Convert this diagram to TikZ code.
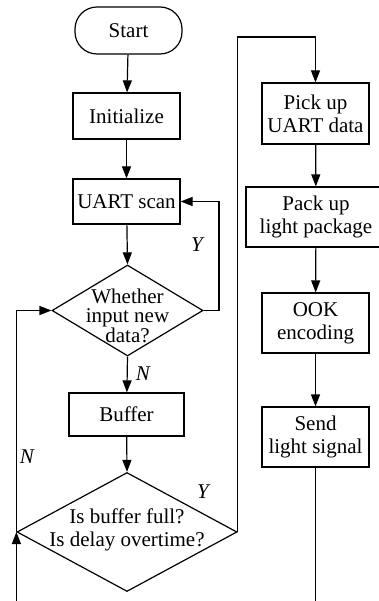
\documentclass[tikz,border=0pt]{standalone}
\usepackage{fontspec}
\setmainfont{Liberation Serif}
\usetikzlibrary{arrows.meta,shapes.geometric}
\tikzset{
  box/.style={draw, line width=1.2pt, rectangle, inner sep=0pt, align=center, minimum width=107pt},
  term/.style={box, rounded corners=22pt, minimum width=107pt, minimum height=47pt},
  dia/.style={draw, line width=1.2pt, diamond, inner sep=0pt},
  arr/.style={line width=1.2pt, -{Triangle[length=12pt,width=9pt]}},
  ln/.style={line width=1.2pt},
  lbl/.style={font=\fontsize{21}{23}\selectfont\itshape, inner sep=0pt},
  txt/.style={align=center, inner sep=0pt}
}
\begin{document}
\begin{tikzpicture}[x=1pt,y=-1pt,font=\fontsize{21}{23}\selectfont]
\useasboundingbox (0,0) rectangle (379,601);
\clip (0,0) rectangle (379,601);
\fill[white] (0,0) rectangle (379,601);
% left column
\node[term] (start) at (128.5,30.5) {Start};
\node[box, minimum height=46pt] (init) at (126.5,116) {Initialize};
\node[box, minimum height=45pt] (scan) at (126.5,201.5) {UART scan};
\node[dia, minimum width=151pt, minimum height=91pt] (d1) at (127.5,310.5) {};
\node[txt, font=\fontsize{21}{18.5}\selectfont] (d1t) at (127.5,316) {Whether\\input new\\data?};
\node[box, minimum width=115pt, minimum height=43pt] (buf) at (126.5,414.5) {Buffer};
\node[dia, minimum width=220pt, minimum height=119pt] (d2) at (127,532) {};
\node[txt] (d2t) at (127,530) {Is buffer full?\\Is delay overtime?};
% right column
\node[box, minimum height=61pt] (pick) at (315.5,113.5) {Pick up\\UART data};
\node[box, minimum width=140pt, minimum height=60pt] (pack) at (316,217) {Pack up\\light package};
\node[box, minimum height=60pt] (ook) at (315.5,323) {OOK\\encoding};
\node[box, minimum height=60pt] (send) at (315.5,437) {Send\\light signal};
% helper coordinates
\coordinate (topy) at (0,37);
\coordinate (boty) at (0,605);
\coordinate (loopx) at (219,0);
% connectors
\draw[arr] (start) -- (init);
\draw[arr] (init) -- (scan);
\draw[arr] (scan) -- (d1.north);
\draw[arr] (d1.east) -- (loopx |- d1.east) |- (scan.east);
\draw[arr] (d1.south) -- (buf);
\draw[arr] (buf) -- (d2.north);
\draw[arr] (d2.east) -- (d2.east |- topy) -| (pick.north);
\draw[arr] (pick) -- (pack);
\draw[arr] (pack) -- (ook);
\draw[arr] (ook) -- (send);
\draw[ln] (send.south) -- (send.south |- boty);
\draw[arr] (d2.west |- boty) -- (d2.west);
\draw[arr] (d2.west) -- (d2.west |- d1.west) -- (d1.west);
% labels
\node[lbl] (ly1) at (197,245) {Y};
\node[lbl] (ln1) at (143,374) {N};
\node[lbl] (ly2) at (203,492) {Y};
\node[lbl] (ln2) at (27,457) {N};
\end{tikzpicture}
\end{document}
